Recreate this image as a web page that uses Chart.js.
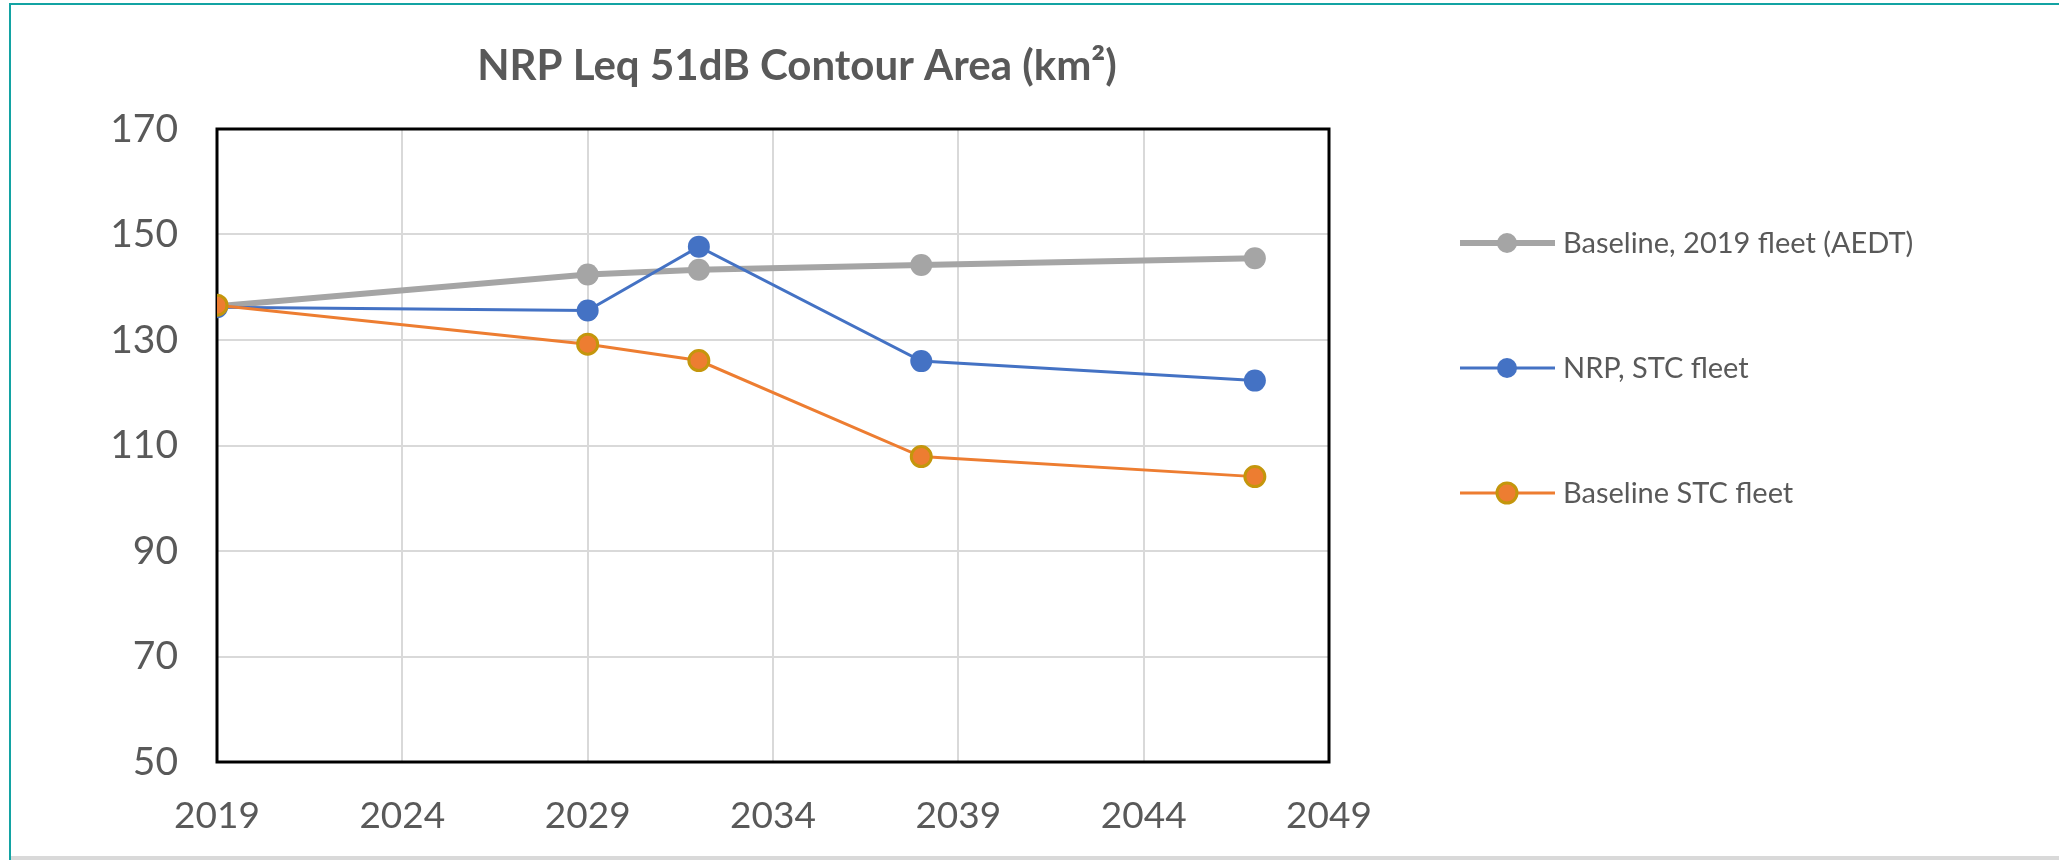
<!DOCTYPE html>
<html>
<head>
<meta charset="utf-8">
<title>NRP Leq 51dB Contour Area</title>
<script src="https://cdn.jsdelivr.net/npm/chart.js@4.4.1/dist/chart.umd.min.js"></script>
<style>
  html, body { margin: 0; padding: 0; background: #fff; }
  #wrap { position: relative; width: 2059px; height: 860px; overflow: hidden; }
  #edge { position: absolute; left: 9px; top: 3px; right: 0; bottom: 0; border-left: 2px solid #13a3a3; border-top: 2px solid #13a3a3; }
  #foot { position: absolute; left: 11px; right: 0; bottom: 0; height: 4px; background: #d9d9d9; }
  canvas { position: absolute; left: 0; top: 0; }
</style>
</head>
<body>
<div id="wrap">
  <div id="edge"></div>
  <div id="foot"></div>
  <canvas id="areaChart" width="2059" height="860"></canvas>
</div>
<script>
// contour area (km²) per forecast year
const years = [2019, 2029, 2032, 2038, 2047];
const baseline2019Fleet = [136.4, 142.4, 143.3, 144.2, 145.5];
const nrpStcFleet = [136.2, 135.6, 147.7, 126.0, 122.3];
const baselineStcFleet = [136.6, 129.2, 126.1, 107.9, 104.1];
const seriesNames = ["Baseline, 2019 fleet (AEDT)", "NRP, STC fleet", "Baseline STC fleet"];

const xMin = 2019, xMax = 2049, xStep = 5;
const yMin = 50, yMax = 170, yStep = 20;

const chartTitle = "NRP Leq 51dB Contour Area (km²)";
const textColor = "#595959";
const fontFamily = "Lato, 'Open Sans', sans-serif";

const toPoints = vals => years.map((x, i) => ({ x: x, y: vals[i] }));

// black box round the plot, drawn under the lines
const plotFrame = {
    id: "plotFrame",
    beforeDatasetsDraw(chart) {
        const { ctx, chartArea: a } = chart;
        ctx.save();
        ctx.strokeStyle = "#000";
        ctx.lineWidth = 3;
        ctx.strokeRect(a.left, a.top, a.right - a.left, a.bottom - a.top);
        ctx.restore();
    }
};

// title and the line+marker legend on the right
const titleAndLegend = {
    id: "titleAndLegend",
    afterDraw(chart) {
        const ctx = chart.ctx;
        ctx.save();
        ctx.fillStyle = textColor;
        ctx.font = "bold 42px " + fontFamily;
        ctx.textAlign = "center";
        ctx.textBaseline = "middle";
        ctx.fillText(chartTitle, 797, 66);

        ctx.textAlign = "left";
        ctx.font = "29px " + fontFamily;
        chart.data.datasets.forEach((ds, i) => {
            const y = 243 + i * 125;
            ctx.strokeStyle = ds.borderColor;
            ctx.lineWidth = ds.borderWidth;
            ctx.beginPath();
            ctx.moveTo(1460, y);
            ctx.lineTo(1555, y);
            ctx.stroke();
            ctx.beginPath();
            ctx.arc(1507, y, 10, 0, Math.PI * 2);
            ctx.fillStyle = ds.pointBackgroundColor;
            ctx.fill();
            if (ds.pointBorderWidth) {
                ctx.lineWidth = ds.pointBorderWidth;
                ctx.strokeStyle = ds.pointBorderColor;
                ctx.stroke();
            }
            ctx.fillStyle = textColor;
            ctx.fillText(ds.label, 1563, y + 1);
        });
        ctx.restore();
    }
};

new Chart(document.getElementById("areaChart"), {
    type: "line",
    data: {
        datasets: [
            {
                label: seriesNames[0],
                data: toPoints(baseline2019Fleet),
                borderColor: "#a5a5a5",
                borderWidth: 6,
                pointRadius: 11,
                pointBackgroundColor: "#a5a5a5",
                pointBorderColor: "#a5a5a5",
                pointBorderWidth: 0,
                order: 2
            },
            {
                label: seriesNames[1],
                data: toPoints(nrpStcFleet),
                borderColor: "#4472c4",
                borderWidth: 3,
                pointRadius: 11,
                pointBackgroundColor: "#4472c4",
                pointBorderColor: "#4472c4",
                pointBorderWidth: 0,
                order: 1
            },
            {
                label: seriesNames[2],
                data: toPoints(baselineStcFleet),
                borderColor: "#ed7d31",
                borderWidth: 3,
                pointRadius: 10,
                pointBackgroundColor: "#ed7d31",
                pointBorderColor: "#c4960c",
                pointBorderWidth: 3,
                order: 0
            }
        ]
    },
    options: {
        responsive: false,
        animation: false,
        devicePixelRatio: 1,
        layout: { padding: { top: 129, right: 730, left: 0, bottom: 0 } },
        plugins: {
            legend: { display: false },
            title: { display: false },
            tooltip: { enabled: false }
        },
        scales: {
            x: {
                type: "linear",
                min: xMin,
                max: xMax,
                afterFit: s => { s.height = 98; },
                ticks: {
                    stepSize: xStep,
                    callback: v => String(v),
                    color: textColor,
                    font: { family: fontFamily, size: 37 },
                    padding: 32,
                    maxRotation: 0
                },
                grid: { color: "#d9d9d9", lineWidth: 2, drawTicks: false },
                border: { display: false }
            },
            y: {
                min: yMin,
                max: yMax,
                afterFit: s => { s.width = 217; },
                ticks: {
                    stepSize: yStep,
                    color: textColor,
                    font: { family: fontFamily, size: 39 },
                    padding: 39
                },
                grid: { color: "#d9d9d9", lineWidth: 2, drawTicks: false },
                border: { display: false }
            }
        }
    },
    plugins: [plotFrame, titleAndLegend]
});
</script>
</body>
</html>
